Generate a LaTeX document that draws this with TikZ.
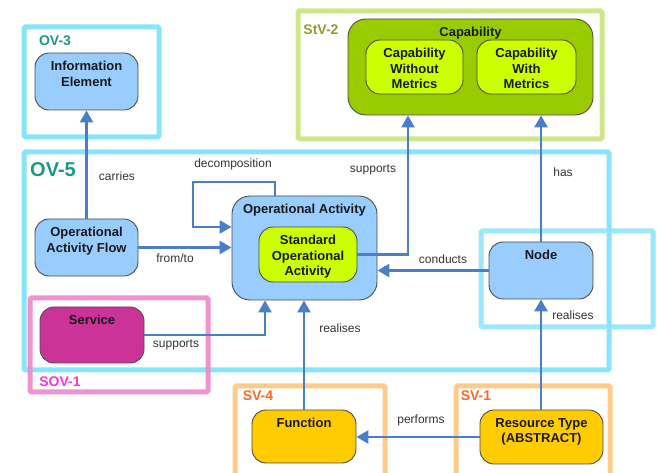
\documentclass[tikz,border=0pt]{standalone}
\usepackage{fontspec}
\setmainfont{Liberation Sans}
\usetikzlibrary{arrows.meta,calc}
\definecolor{frcyan}{HTML}{88E4FA}
\definecolor{frgreen}{HTML}{CCE689}
\definecolor{frpink}{HTML}{EE88CC}
\definecolor{frorange}{HTML}{FFCC88}
\definecolor{fillblue}{HTML}{99CCFF}
\definecolor{fillolive}{HTML}{99CC00}
\definecolor{filllime}{HTML}{CCFF00}
\definecolor{fillmag}{HTML}{CC3399}
\definecolor{fillgold}{HTML}{FFCC00}
\definecolor{connblue}{HTML}{4A7EC8}
\definecolor{tealtxt}{HTML}{1A9988}
\definecolor{olivetxt}{HTML}{999933}
\definecolor{pinktxt}{HTML}{FF33CC}
\definecolor{orangetxt}{HTML}{FF6622}
\tikzset{
  frame/.style={line width=5pt, rounded corners=1.5pt},
  box/.style={draw=black!70, line width=0.9pt, rounded corners=14pt, inner sep=0pt},
  toplabel/.style={label={[anchor=north, inner sep=0pt, align=center, font=\fontsize{13}{15.5}\selectfont\bfseries, text=black!90, yshift=-8.5pt]north:{#1}}},
  conn/.style={draw=connblue, line width=2.6pt, -{Triangle[length=12pt,width=13pt]}},
  lbl/.style={font=\fontsize{12}{14}\selectfont, text=black!80, inner sep=0pt},
  frlbl/.style={font=\fontsize{14}{16}\selectfont\bfseries, inner sep=0pt},
}
\begin{document}
\begin{tikzpicture}[x=1pt,y=-1pt]
\useasboundingbox (0,0) rectangle (657,473);
% frames
\draw[frame, frcyan] (24,27) rectangle (159,137);
\draw[frame, frgreen] (298,11) rectangle (602,139);
\draw[frame, frcyan] (24,152) rectangle (609,370);
\draw[frame, frcyan, opacity=0.85] (481,231) rectangle (653,327);
\draw[frame, frpink, opacity=0.9] (30,298) rectangle (208,392);
\draw[frame, frorange] (235,476) -- (235,386) -- (385,386) -- (385,476);
\draw[frame, frorange] (456,476) -- (456,386) -- (610,386) -- (610,476);
% frame labels
\node[frlbl, text=tealtxt] (lov3) at (55,41) {OV-3};
\node[frlbl, text=olivetxt] (lstv2) at (321,30) {StV-2};
\node[font=\fontsize{20}{22}\selectfont\bfseries, text=tealtxt, inner sep=0pt] (lov5) at (53,170) {OV-5};
\node[frlbl, text=pinktxt] (lsov1) at (60,382) {SOV-1};
\node[frlbl, text=orangetxt] (lsv4) at (258,396) {SV-4};
\node[frlbl, text=orangetxt] (lsv1) at (476,396) {SV-1};
% nodes
\node[box, fill=fillblue, minimum width=103pt, minimum height=57pt, toplabel={Information\\Element}] (ie) at (86.5,81.5) {};
\node[box, fill=fillolive, minimum width=245pt, minimum height=96pt, rounded corners=18pt, toplabel=Capability] (cap) at (470.5,67) {};
\node[box, fill=filllime, minimum width=97pt, minimum height=54pt, toplabel={Capability\\Without\\Metrics}] (cwom) at (414.5,67) {};
\node[box, fill=filllime, minimum width=99pt, minimum height=54pt, toplabel={Capability\\With\\Metrics}] (cwm) at (526.5,67) {};
\node[box, fill=fillblue, minimum width=103pt, minimum height=57pt, toplabel={Operational\\Activity Flow}] (oaf) at (86.5,247.5) {};
\node[box, fill=fillblue, minimum width=145pt, minimum height=104pt, rounded corners=18pt, toplabel={Operational Activity}] (oa) at (304.5,248) {};
\node[box, fill=filllime, minimum width=98pt, minimum height=55pt, toplabel={Standard\\Operational\\Activity}] (soa) at (308,254.5) {};
\node[box, fill=fillblue, minimum width=104pt, minimum height=57pt, toplabel=Node] (nd) at (541,270.5) {};
\node[box, fill=fillmag, minimum width=104pt, minimum height=56pt, toplabel=Service] (svc) at (92,335) {};
\node[box, fill=fillgold, minimum width=104pt, minimum height=53pt, toplabel=Function] (fn) at (304,436.5) {};
\node[box, fill=fillgold, minimum width=123pt, minimum height=54pt, toplabel={Resource Type\\(ABSTRACT)}] (rt) at (541.5,437) {};
% helper coordinates
\coordinate (d1) at (275,182);
\coordinate (d2) at (193,227);
\coordinate (s1) at (408,0);
\coordinate (s2) at (265,0);
% connectors
\draw[conn] (oaf.north) -- (ie.south);
\draw[conn] (oa.north -| d1) -- (d1) -| (d2) -- (d2 -| oa.west);
\draw[conn] (oaf.east) -- (oaf.east -| oa.west);
\draw[conn] (soa.east) -| (s1 |- cap.south);
\draw[conn] (nd.north) -- (nd.north |- cap.south);
\draw[conn] (nd.west) -- (nd.west -| oa.east);
\draw[conn] (rt.north -| nd.south) -- (nd.south);
\draw[conn] (svc.east) -| (s2 |- oa.south);
\draw[conn] (fn.north) -- (fn.north |- oa.south);
\draw[conn] (rt.west) -- (rt.west -| fn.east);
% connector labels
\node[lbl] (lcarries) at (117,176) {carries};
\node[lbl] (ldecomp) at (233,164) {decomposition};
\node[lbl] (lfromto) at (175,258) {from/to};
\node[lbl] (lsup1) at (373,170) {supports};
\node[lbl] (lhas) at (563,172) {has};
\node[lbl] (lconducts) at (443,259) {conducts};
\node[lbl] (lreal1) at (573,315) {realises};
\node[lbl] (lsup2) at (176,345) {supports};
\node[lbl] (lreal2) at (340,328) {realises};
\node[lbl] (lperforms) at (421,420) {performs};
\end{tikzpicture}
\end{document}
